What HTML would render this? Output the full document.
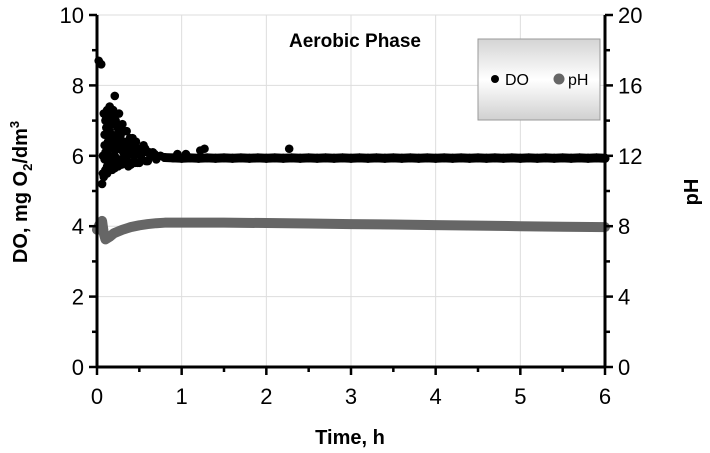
<!DOCTYPE html>
<html><head><meta charset="utf-8"><style>
html,body{margin:0;padding:0;background:#fff;}
svg{display:block;font-family:"Liberation Sans",Arial,sans-serif;}
</style></head><body>
<svg id="chart" width="710" height="453">
<defs>
<linearGradient id="lg" x1="0" y1="0" x2="0" y2="1">
<stop offset="0" stop-color="#d4d4d4"/><stop offset="0.5" stop-color="#ffffff"/><stop offset="1" stop-color="#d0d0d0"/>
</linearGradient>
</defs>
<g id="grid"></g>
<g id="series"></g>
<g id="axes"></g>
<text x="355" y="47" font-size="19" font-weight="bold" text-anchor="middle">Aerobic Phase</text>
<g>
<rect x="478" y="39" width="122" height="81" fill="url(#lg)" stroke="#999" stroke-width="1"/>
<g>
<circle cx="495" cy="79" r="4" fill="#000"/>
<text x="505" y="85" font-size="16">DO</text></g>
<g>
<circle cx="559" cy="79" r="5.5" fill="#666"/>
<text x="568" y="85" font-size="16">pH</text></g>
</g>
<text x="350" y="444" font-size="20" font-weight="bold" text-anchor="middle">Time, h</text>
<text transform="translate(27,192) rotate(-90)" font-size="20" font-weight="bold" text-anchor="middle">DO, mg O<tspan font-size="13" dy="5">2</tspan><tspan dy="-5">/dm</tspan><tspan font-size="13" dy="-8">3</tspan></text>
<text transform="translate(698,192) rotate(-90)" font-size="20" font-weight="bold" text-anchor="middle">pH</text>
</svg>
<script>
const xTicks=[0,1,2,3,4,5,6];
const yTicksLeft=[0,2,4,6,8,10];
const yTicksRight=[0,4,8,12,16,20];
const doTimes=[0.02,0.03,0.05,0.06,0.07,0.08,0.09,0.1,0.1,0.11,0.12,0.12,0.13,0.14,0.15,0.15,0.16,0.17,0.18,0.18,0.19,0.2,0.21,0.22,0.22,0.23,0.24,0.25,0.26,0.27,0.28,0.29,0.3,0.31,0.32,0.33,0.35,0.36,0.38,0.4,0.42,0.44,0.46,0.48,0.5,0.52,0.55,0.58,0.6,0.63,0.66,0.7,0.75,0.8,0.08,0.1,0.12,0.14,0.16,0.2,0.24,0.28,0.32,0.36,0.4,0.45,0.5,0.55,0.6,0.65,0.7,0.07,0.09,0.11,0.13,0.15,0.17,0.19,0.21,0.23,0.25,0.27,0.29,0.31,0.34,0.37,0.39,0.41,0.43,0.47,0.53,0.57,0.62,0.68,0.09,0.13,0.17,0.21,0.25,0.29,0.33,0.37,0.45,1.22,1.27,2.27,0.95,1.05];
const doValues=[8.7,8.65,8.6,5.2,5.5,7.2,6.3,5.6,7.0,6.8,5.5,7.3,6.2,5.7,7.4,6.0,7.1,5.8,6.9,5.6,7.3,6.5,7.7,5.8,7.0,6.4,6.8,5.9,7.2,6.2,6.6,5.9,6.9,6.1,6.4,5.8,6.7,6.0,6.3,5.8,6.5,6.0,6.4,5.8,6.2,6.0,6.3,5.85,6.1,6.0,6.1,5.9,6.0,5.95,5.4,6.1,5.7,6.6,5.8,6.2,5.7,6.3,5.8,6.1,5.75,6.2,5.8,6.1,5.85,6.0,5.9,6.0,6.6,7.1,6.4,6.7,6.3,7.2,6.0,6.6,6.2,6.5,6.7,6.3,6.1,6.4,6.5,6.2,6.4,6.1,6.15,6.2,6.1,6.05,5.9,5.6,5.75,5.65,5.7,5.75,5.8,5.7,5.8,6.15,6.2,6.2,6.05,6.05];
const flatTimes=[0.8,0.9,1.0,1.1,1.2,1.3,1.4,1.5,1.6,1.7,1.8,1.9,2.0,2.1,2.2,2.3,2.4,2.5,2.6,2.7,2.8,2.9,3.0,3.1,3.2,3.3,3.4,3.5,3.6,3.7,3.8,3.9,4.0,4.1,4.2,4.3,4.4,4.5,4.6,4.7,4.8,4.9,5.0,5.1,5.2,5.3,5.4,5.5,5.6,5.7,5.8,5.9,6.0];
const flatValues=[5.95,5.94,5.93,5.94,5.93,5.94,5.93,5.94,5.93,5.94,5.93,5.94,5.93,5.94,5.93,5.94,5.93,5.94,5.93,5.94,5.93,5.94,5.93,5.94,5.93,5.94,5.93,5.94,5.93,5.94,5.93,5.94,5.93,5.94,5.93,5.94,5.93,5.94,5.93,5.94,5.93,5.94,5.93,5.94,5.93,5.94,5.93,5.94,5.93,5.94,5.93,5.94,5.93];
const phTimes=[0.0,0.02,0.04,0.06,0.08,0.1,0.15,0.2,0.3,0.4,0.5,0.6,0.7,0.8,1.0,1.5,2.0,2.5,3.0,3.5,4.0,4.5,5.0,5.5,6.0];
const phValues=[7.8,8.0,8.2,8.3,7.6,7.25,7.4,7.6,7.8,7.95,8.05,8.12,8.17,8.2,8.2,8.2,8.18,8.15,8.12,8.1,8.06,8.03,8.0,7.97,7.95];

const X0=97,X1=605,Y0=367,Y1=15;
const xs=v=>X0+(v/6)*(X1-X0);
const yL=v=>Y0-(v/10)*(Y0-Y1);
const yR=v=>Y0-(v/20)*(Y0-Y1);
const NS="http://www.w3.org/2000/svg";
function mk(tag,attrs,parent){const e=document.createElementNS(NS,tag);for(const k in attrs)e.setAttribute(k,attrs[k]);parent.appendChild(e);return e;}
const grid=document.getElementById('grid'),series=document.getElementById('series'),axes=document.getElementById('axes');
xTicks.forEach(t=>{if(t>0&&t<6){const l=mk('line',{x1:xs(t),x2:xs(t),y1:Y1,y2:Y0,stroke:'#ddd','stroke-width':1},grid);

}});
yTicksLeft.forEach(t=>{if(t>0){const l=mk('line',{x1:X0,x2:X1,y1:yL(t),y2:yL(t),stroke:'#ddd','stroke-width':1},grid);

}});
const pts=phTimes.map((t,i)=>xs(t)+','+yR(phValues[i])).join(' ');
const pl=mk('polyline',{points:pts,fill:'none',stroke:'#666','stroke-width':10,'stroke-linecap':'round','stroke-linejoin':'round'},series);


for(let i=0;i<flatTimes.length-1;i++){
 const l=mk('line',{x1:xs(flatTimes[i]),y1:yL(flatValues[i]),x2:xs(flatTimes[i+1]),y2:yL(flatValues[i+1]),stroke:'#000','stroke-width':9,'stroke-linecap':'round'},series);
 
 
}
flatTimes.forEach((t,i)=>{const c=mk('circle',{cx:xs(t),cy:yL(flatValues[i]),r:4.5,fill:'#000'},series);

});
doTimes.forEach((t,i)=>{const c=mk('circle',{cx:xs(t),cy:yL(doValues[i]),r:4.3,fill:'#000'},series);

});
mk('line',{x1:X0,x2:X0,y1:Y1,y2:Y0,stroke:'#000','stroke-width':3},axes);
mk('line',{x1:X1,x2:X1,y1:Y1,y2:Y0,stroke:'#000','stroke-width':3},axes);
mk('line',{x1:X0,x2:X1,y1:Y0,y2:Y0,stroke:'#000','stroke-width':3},axes);
for(let v=0;v<=10;v++){const y=yL(v);mk('line',{x1:X0-(v%2?5:8),x2:X0,y1:y,y2:y,stroke:'#000','stroke-width':2.5},axes);
mk('line',{x1:X1,x2:X1+(v%2?5:8),y1:y,y2:y,stroke:'#000','stroke-width':2.5},axes);}
for(let v=0;v<=12;v++){const x=xs(v/2);mk('line',{x1:x,x2:x,y1:Y0,y2:Y0+(v%2?5:8),stroke:'#000','stroke-width':2.5},axes);}
yTicksLeft.forEach(t=>{const e=mk('text',{x:X0-13,y:yL(t)+8,'font-size':22,'text-anchor':'end'},axes);e.textContent=t;

});
yTicksRight.forEach(t=>{const e=mk('text',{x:X1+13,y:yR(t)+8,'font-size':22,'text-anchor':'start'},axes);e.textContent=t;

});
xTicks.forEach(t=>{const e=mk('text',{x:xs(t),y:Y0+37,'font-size':22,'text-anchor':'middle'},axes);e.textContent=t;

});
</script>
</body></html>
